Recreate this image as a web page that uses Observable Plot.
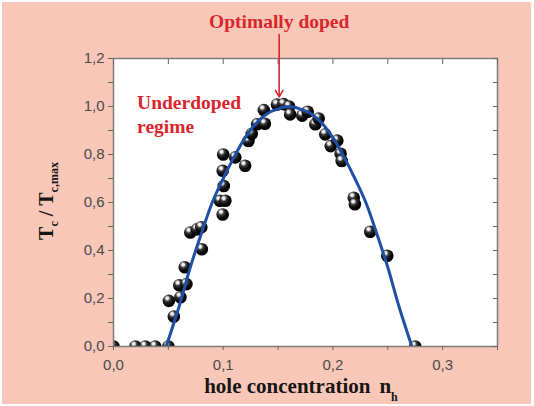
<!DOCTYPE html>
<html><head><meta charset="utf-8">
<script src="https://cdn.jsdelivr.net/npm/d3@7"></script>
<script src="https://cdn.jsdelivr.net/npm/@observablehq/plot@0.6"></script>
<style>
html,body{margin:0;padding:0;background:#fff;}
#wrap{position:absolute;left:0;top:0;width:534px;height:406px;overflow:hidden;}
#bg{position:absolute;left:2px;top:2px;width:529px;height:402px;background:#f8c7b7;}
#chart{position:absolute;left:0;top:0;}
</style></head><body>
<div id="wrap"><div id="bg"></div><div id="chart"></div></div>
<script>
// measured points: hole concentration n_h and Tc/Tc,max
const holeConc = [0, 0.02, 0.029, 0.038, 0.05, 0.0505, 0.055, 0.06, 0.061, 0.0665, 0.065, 0.070, 0.076, 0.08, 0.0805,
  0.0995, 0.097, 0.102, 0.1005, 0.0995, 0.1, 0.111, 0.12, 0.123, 0.126, 0.131, 0.138, 0.137, 0.149, 0.155, 0.16, 0.161,
  0.172, 0.177, 0.184, 0.187, 0.193, 0.198, 0.204, 0.207, 0.208, 0.219, 0.22, 0.234, 0.2495, 0.275];
const tcRatio = [0, 0, 0, 0, 0, 0.19, 0.125, 0.255, 0.205, 0.26, 0.33, 0.475, 0.488, 0.497, 0.405,
  0.55, 0.607, 0.607, 0.669, 0.732, 0.80, 0.788, 0.753, 0.856, 0.886, 0.926, 0.928, 0.985, 1.008, 1.01, 1.0, 0.967,
  0.962, 0.978, 0.926, 0.95, 0.884, 0.835, 0.858, 0.803, 0.773, 0.62, 0.593, 0.478, 0.378, 0];
// fitted dome curve
const fitX = [0.048, 0.06, 0.07, 0.08, 0.09, 0.10, 0.11, 0.12, 0.13, 0.14, 0.15, 0.16, 0.17, 0.18, 0.19, 0.20, 0.21, 0.22, 0.23, 0.24, 0.25, 0.26, 0.272];
const fitY = [0, 0.17, 0.33, 0.47, 0.60, 0.70, 0.79, 0.87, 0.93, 0.97, 0.99, 1.0, 0.99, 0.97, 0.93, 0.87, 0.79, 0.70, 0.60, 0.47, 0.33, 0.17, 0];
// ticks
const xTicks = [0, 0.05, 0.1, 0.15, 0.2, 0.25, 0.3, 0.35];
const xTickLabels = [0, 0.1, 0.2, 0.3];
const yTicks = [0, 0.1, 0.2, 0.3, 0.4, 0.5, 0.6, 0.7, 0.8, 0.9, 1.0, 1.1, 1.2];
const yTickLabels = [0, 0.2, 0.4, 0.6, 0.8, 1.0, 1.2];
// annotations
const topNoteText = ["Optimally doped"];
const topNoteX = [0.151];
const topNoteY = [1.328];
const sideNoteText = ["Underdoped\nregime"];
const sideNoteX = [0.0215];
const sideNoteY = [0.89];
const arrowX = [0.151];
const arrowY1 = [1.30];
const arrowY2 = [1.04];

const red = "#d8262e";
const points = holeConc.map((x, i) => ({x, y: tcRatio[i]}));
const fit = fitX.map((x, i) => ({x, y: fitY[i]}));
const topNotes = topNoteText.map((t, i) => ({t, x: topNoteX[i], y: topNoteY[i]}));
const sideNotes = sideNoteText.map((t, i) => ({t, x: sideNoteX[i], y: sideNoteY[i]}));
const arrows = arrowX.map((x, i) => ({x, y1: arrowY1[i], y2: arrowY2[i]}));
const fmt = d => d.toFixed(1).replace(".", ",");
const noteStyle = {fontFamily: "Liberation Serif", fontWeight: "bold", fontSize: 19.5, fill: red, lineHeight: 1.22, lineAnchor: "bottom"};

const chart = Plot.plot({
  width: 534, height: 406,
  marginLeft: 113, marginRight: 37, marginTop: 58, marginBottom: 60,
  x: {domain: [0, 0.35], label: null},
  y: {domain: [0, 1.2], label: null},
  style: {background: "transparent", fontFamily: "Liberation Sans", overflow: "visible"},
  marks: [
    Plot.frame({fill: "white", stroke: "none"}),
    Plot.dot(points, {x: "x", y: "y", r: 6.3, fill: "url(#ball)", clip: true}),
    Plot.line(fit, {x: "x", y: "y", stroke: "#1f4fa6", strokeWidth: 3, curve: "catmull-rom", clip: true}),
    Plot.frame({stroke: "#7c7c7c", strokeWidth: 1.5}),
    Plot.axisX({anchor: "bottom", ticks: xTicks, tickSize: 4, tickPadding: 9, label: null,
      tickFormat: d => xTickLabels.includes(d) ? fmt(d) : "", fontSize: 15, fill: "#4a4a4a", stroke: "#666"}),
    Plot.axisX({anchor: "top", ticks: xTicks, tickSize: 5, dy: 5, fill: "none", label: null, stroke: "#666"}),
    Plot.axisY({anchor: "left", ticks: yTicks, tickSize: 5, tickPadding: 4, label: null,
      tickFormat: d => yTickLabels.includes(d) ? fmt(d) : "", fontSize: 15, fill: "#4a4a4a", stroke: "#666"}),
    Plot.axisY({anchor: "right", ticks: yTicks, tickSize: 5, dx: -5, fill: "none", label: null, stroke: "#666"}),
    Plot.arrow(arrows, {x1: "x", x2: "x", y1: "y1", y2: "y2", stroke: red, strokeWidth: 1.6, headLength: 7}),
    Plot.text(topNotes, {x: "x", y: "y", text: "t", textAnchor: "middle", ...noteStyle}),
    Plot.text(sideNotes, {x: "x", y: "y", text: "t", textAnchor: "start", ...noteStyle})
  ]
});
document.getElementById("chart").appendChild(chart);

const svg = d3.select(chart);
const defs = svg.insert("defs", ":first-child");
const g = defs.append("radialGradient").attr("id", "ball").attr("cx", "38%").attr("cy", "32%").attr("r", "65%")
  .attr("fx", "36%").attr("fy", "28%");
g.append("stop").attr("offset", "0%").attr("stop-color", "#ffffff");
g.append("stop").attr("offset", "16%").attr("stop-color", "#e6e6e6");
g.append("stop").attr("offset", "38%").attr("stop-color", "#3a3a3a");
g.append("stop").attr("offset", "70%").attr("stop-color", "#0a0a0a");
g.append("stop").attr("offset", "100%").attr("stop-color", "#000000");

// x axis title
const xt = svg.append("text").attr("x", 301).attr("y", 393).attr("text-anchor", "middle")
  .attr("font-family", "Liberation Serif").attr("font-weight", "bold").attr("font-size", 21).attr("fill", "#161616");
xt.append("tspan").text("hole concentration");
xt.append("tspan").attr("dx", 9).text("n");
xt.append("tspan").attr("dy", 8).attr("font-size", 12).text("h");

// y axis title
const yt = svg.append("text").attr("transform", "translate(53,201) rotate(-90)").attr("text-anchor", "middle")
  .attr("font-family", "Liberation Serif").attr("font-weight", "bold").attr("font-size", 20).attr("fill", "#161616");
yt.append("tspan").text("T");
yt.append("tspan").attr("dy", 5).attr("font-size", 12).text("c");
yt.append("tspan").attr("dy", -5).attr("font-size", 20).text("\u00a0/\u00a0T");
yt.append("tspan").attr("dy", 5).attr("font-size", 12).text("c,max");
</script>
</body></html>
